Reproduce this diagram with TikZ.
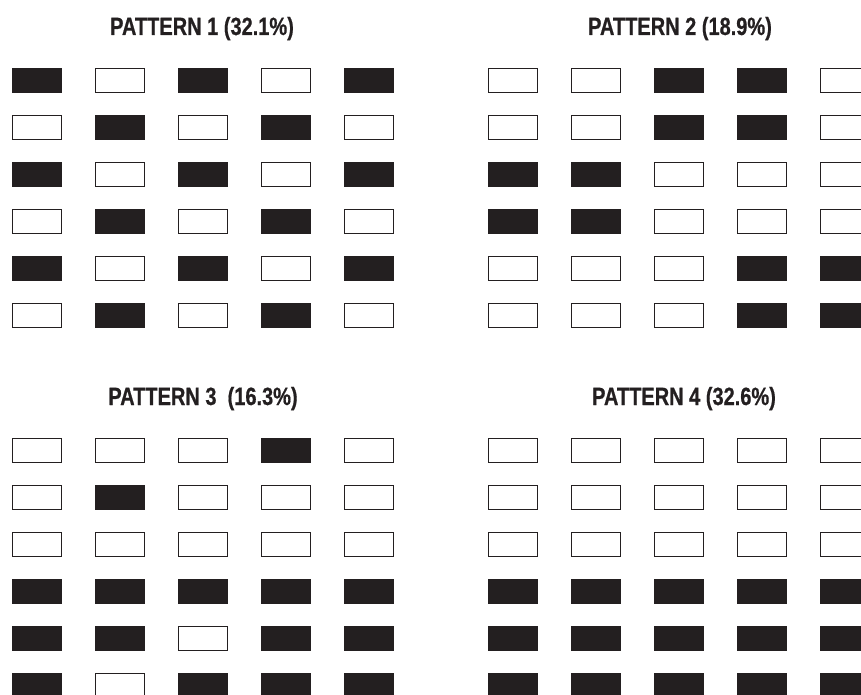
\documentclass[tikz,border=0pt]{standalone}
\usepackage{fontspec}
\setmainfont{Liberation Sans}[FakeStretch=0.8, BoldFeatures={FakeBold=0.6}]
\usetikzlibrary{positioning}
\definecolor{CellDark}{RGB}{35, 31, 32}

\tikzset{
  cellon/.style={fill=CellDark, draw=CellDark, line width=0.9pt},
  celloff/.style={fill=white, draw=CellDark, line width=0.9pt},
  title/.style={font=\bfseries\fontsize{25}{29}\selectfont, text=CellDark, inner sep=0pt, anchor=base}
}

% one 6x5 grid of cells, top left corner at (#1,#2)
\newcommand{\cellgrid}[3]{%
  \foreach \row [count=\j from 0] in {#3} {
    \foreach \b [count=\i from 0] in \row {
      \ifnum\b=1 \def\cellstyle{cellon}\else \def\cellstyle{celloff}\fi
      \draw[\cellstyle] ({#1+83*\i},{#2+47*\j}) rectangle ++(49,24);
    }
  }%
}

\begin{document}
\begin{tikzpicture}[x=1pt, y=-1pt]
      \useasboundingbox (0,0) rectangle (861,695);
      \clip (0,0) rectangle (861,695);

      % Titles
      \node[title] (t1) at (202,35) {PATTERN 1 (32.1\%)};
      \node[title] (t2) at (680,35) {PATTERN 2 (18.9\%)};
      \node[title] (t3) at (203,405) {PATTERN 3\ \ (16.3\%)};
      \node[title] (t4) at (684,405) {PATTERN 4 (32.6\%)};

      % Pattern 1
      \cellgrid{12}{68}{{1,0,1,0,1},{0,1,0,1,0},{1,0,1,0,1},{0,1,0,1,0},{1,0,1,0,1},{0,1,0,1,0}}

      % Pattern 2
      \cellgrid{488}{68}{{0,0,1,1,0},{0,0,1,1,0},{1,1,0,0,0},{1,1,0,0,0},{0,0,0,1,1},{0,0,0,1,1}}

      % Pattern 3
      \cellgrid{12}{438}{{0,0,0,1,0},{0,1,0,0,0},{0,0,0,0,0},{1,1,1,1,1},{1,1,0,1,1},{1,0,1,1,1}}

      % Pattern 4
      \cellgrid{488}{438}{{0,0,0,0,0},{0,0,0,0,0},{0,0,0,0,0},{1,1,1,1,1},{1,1,1,1,1},{1,1,1,1,1}}
    \end{tikzpicture}
\end{document}
